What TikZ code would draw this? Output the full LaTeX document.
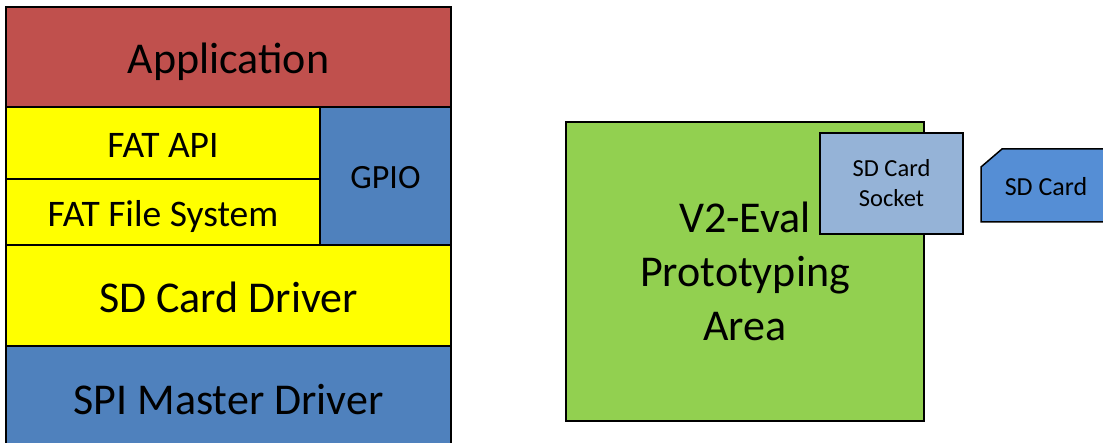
\documentclass[tikz,border=0pt]{standalone}
\usepackage{fontspec}
\setmainfont{Carlito}
\usepackage{tikz}
\usetikzlibrary{positioning}

\definecolor{appred}{HTML}{C0504D}
\definecolor{layerblue}{HTML}{4F81BD}
\definecolor{layeryellow}{HTML}{FFFF00}
\definecolor{boardgreen}{HTML}{92D050}
\definecolor{socketblue}{HTML}{95B3D7}
\definecolor{cardblue}{HTML}{558ED5}

\newcommand{\layerfont}{\fontsize{44}{54}\selectfont}
\newcommand{\fatfont}{\fontsize{37.5}{45}\selectfont}
\newcommand{\smallfont}{\fontsize{24.5}{30}\selectfont}

\begin{document}
\begin{tikzpicture}[x=1pt, y=-1pt,
        layer/.style={draw, line width=1.5pt, anchor=north west, outer sep=0pt,
            inner sep=0pt},
        bigtext/.style={font=\layerfont, text height=38pt, text depth=4pt},
        fattext/.style={font=\fatfont, text height=33pt, text depth=4pt},
        board/.style={draw, line width=1.5pt, anchor=north west, outer sep=0pt,
            inner sep=0pt, align=center}]
    \useasboundingbox (0,0) rectangle (1103,443);

    % software stack
    \node [layer, bigtext, fill=appred, minimum width=445, minimum height=100,
        text height=37pt] (app) at (6,7) {Application};
    \node [layer, fattext, fill=layeryellow, minimum width=314, minimum height=72,
        below=0pt of app.south west, anchor=north west] (fatapi) {FAT API};
    \node [layer, fattext, fill=layeryellow, minimum width=314, minimum height=66,
        below=0pt of fatapi.south west, anchor=north west] (fatfs) {FAT File System};
    \node [layer, fill=layerblue, minimum width=131, minimum height=138,
        font=\fontsize{34}{40}\selectfont, text height=28pt, text depth=3.5pt,
        anchor=north east] (gpio) at (app.south east) {GPIO};
    \node [layer, bigtext, fill=layeryellow, minimum width=445, minimum height=101,
        below=0pt of fatfs.south west, anchor=north west] (sddrv) {SD Card Driver};
    \node [layer, bigtext, fill=layerblue, minimum width=445, minimum height=102,
        below=0pt of sddrv.south west, anchor=north west] (spi) {SPI Master Driver};

    % hardware
    \node [board, fill=boardgreen, minimum width=358, minimum height=299, font=\layerfont]
        (eval) at (566,122) {V2-Eval\\Prototyping\\Area};
    \node [board, fill=socketblue, minimum width=143, minimum height=101, font=\smallfont]
        (socket) at (820,133) {SD Card\\Socket};

    \draw [line width=1.5pt, fill=cardblue]
        (981,167) -- (1002,149) -- (1112,149) -- (1112,222) -- (981,222) -- cycle;
    \node [font=\fontsize{26}{30}\selectfont] (card) at (1046,187) {SD Card};
\end{tikzpicture}
\end{document}
